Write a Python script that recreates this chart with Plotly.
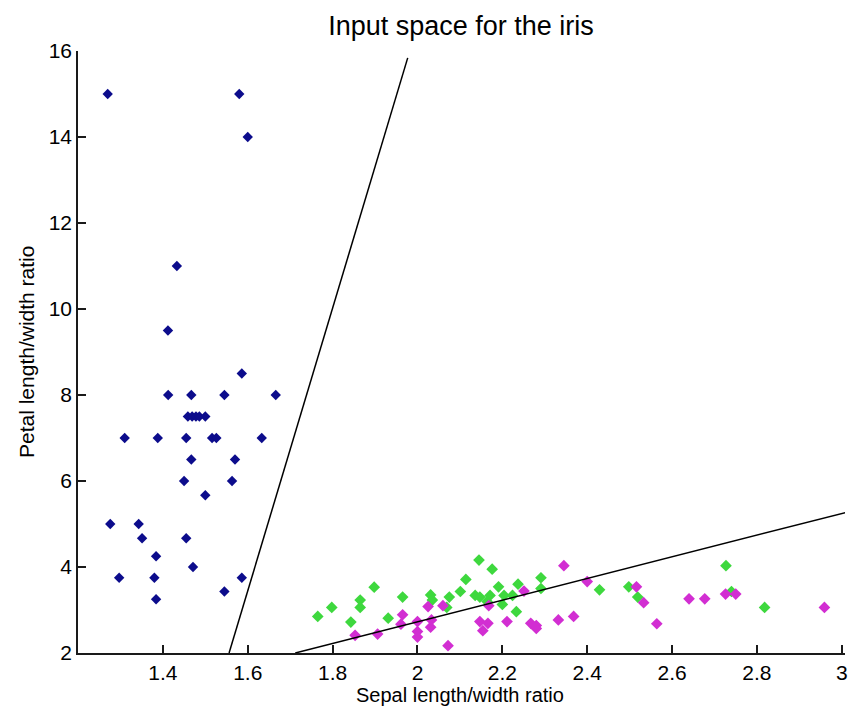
import plotly.graph_objects as go

# ---- data ----
setosa_x = [1.27, 1.58, 1.60, 1.433, 1.412, 1.586, 1.4125, 1.467, 1.545, 1.666,
            1.459, 1.469, 1.478, 1.486, 1.500, 1.31, 1.388, 1.455, 1.516, 1.526,
            1.633, 1.467, 1.57, 1.45, 1.563, 1.5, 1.276, 1.343, 1.351, 1.455,
            1.384, 1.471, 1.297, 1.38, 1.586, 1.545, 1.384]
setosa_y = [15, 15, 14, 11, 9.5, 8.5, 8, 8, 8, 8,
            7.5, 7.5, 7.5, 7.5, 7.5, 7, 7, 7, 7, 7,
            7, 6.5, 6.5, 6, 6, 5.67, 5, 5, 4.67, 4.67,
            4.25, 4, 3.75, 3.75, 3.75, 3.43, 3.25]

versicolor_x = [1.765, 1.798, 1.843, 1.865, 1.865, 1.898, 1.931, 1.965, 2.031, 2.035,
                2.075, 2.069, 2.101, 2.114, 2.145, 2.176, 2.136, 2.147, 2.171, 2.191,
                2.204, 2.2, 2.237, 2.233, 2.224, 2.291, 2.291, 2.164, 2.429, 2.498,
                2.519, 2.727, 2.74, 2.818]
versicolor_y = [2.85, 3.06, 2.72, 3.23, 3.06, 3.53, 2.81, 3.30, 3.35, 3.23,
                3.30, 3.06, 3.43, 3.71, 4.16, 3.95, 3.34, 3.30, 3.34, 3.54,
                3.34, 3.13, 3.60, 2.96, 3.34, 3.75, 3.50, 3.20, 3.47, 3.54,
                3.30, 4.03, 3.43, 3.06]

virginica_x = [1.853, 1.906, 1.965, 1.961, 2.0, 2.0, 2.0, 2.025, 2.031, 2.033,
               2.06, 2.072, 2.147, 2.166, 2.154, 2.211, 2.168, 2.251, 2.267, 2.28,
               2.28, 2.332, 2.345, 2.368, 2.40, 2.516, 2.533, 2.564, 2.64, 2.677,
               2.726, 2.75, 2.959]
virginica_y = [2.41, 2.44, 2.89, 2.67, 2.73, 2.50, 2.37, 3.08, 2.60, 2.77,
               3.10, 2.17, 2.73, 2.69, 2.52, 2.73, 3.10, 3.44, 2.69, 2.64,
               2.57, 2.77, 4.03, 2.85, 3.66, 3.54, 3.17, 2.68, 3.26, 3.26,
               3.37, 3.37, 3.06]

boundary1_x = [1.556, 1.977]
boundary1_y = [2.0, 15.84]
boundary2_x = [1.712, 3.01]
boundary2_y = [2.0, 5.27]

x_ticks = [1.4, 1.6, 1.8, 2.0, 2.2, 2.4, 2.6, 2.8, 3.0]
x_tick_labels = ["1.4", "1.6", "1.8", "2", "2.2", "2.4", "2.6", "2.8", "3"]
y_ticks = [2, 4, 6, 8, 10, 12, 14, 16]

FONT = "Liberation Sans, Arial, sans-serif"

fig = go.Figure()
fig.add_trace(go.Scatter(x=setosa_x, y=setosa_y, mode="markers",
                         marker=dict(symbol="diamond", size=8, color="#0c0c8c"),
                         showlegend=False))
fig.add_trace(go.Scatter(x=versicolor_x, y=versicolor_y, mode="markers",
                         marker=dict(symbol="diamond", size=9, color="#3ed83e"),
                         showlegend=False))
fig.add_trace(go.Scatter(x=virginica_x, y=virginica_y, mode="markers",
                         marker=dict(symbol="diamond", size=9, color="#d22ed2"),
                         showlegend=False))
for bx, by in [(boundary1_x, boundary1_y), (boundary2_x, boundary2_y)]:
    fig.add_trace(go.Scatter(x=bx, y=by, mode="lines",
                             line=dict(color="black", width=1.5),
                             showlegend=False))

fig.update_layout(
    width=848, height=718,
    margin=dict(l=78, r=0, t=51, b=65),
    paper_bgcolor="white", plot_bgcolor="white",
    font=dict(family=FONT, color="black", size=21),
    title=dict(text="Input space for the iris", x=461 / 848, xanchor="center",
               xref="container", yref="container", y=1 - 26 / 718, yanchor="middle",
               font=dict(size=27, family=FONT, color="black")),
    xaxis=dict(range=[1.2, 3.0075], tickvals=x_ticks, ticktext=x_tick_labels,
               showline=True, linecolor="#1a1a1a", linewidth=1.5, mirror=False,
               ticks="inside", ticklen=8, tickcolor="#1a1a1a", tickwidth=1.5,
               showgrid=False, zeroline=False, tickfont=dict(size=21),
               ticklabeloverflow="allow"),
    yaxis=dict(range=[2, 16], tickvals=y_ticks,
               showline=True, linecolor="#1a1a1a", linewidth=1.5, mirror=False,
               ticks="inside", ticklen=8, tickcolor="#1a1a1a", tickwidth=1.5,
               showgrid=False, zeroline=False, tickfont=dict(size=21)),
    annotations=[
        dict(text="Sepal length/width ratio", xref="paper", yref="paper",
             x=(461 - 78) / 770, y=0, yshift=-42, xanchor="center", yanchor="middle",
             showarrow=False, font=dict(size=20, family=FONT)),
        dict(text="Petal length/width ratio", xref="paper", yref="paper",
             x=0, y=0.5, xshift=-52, xanchor="center", yanchor="middle",
             textangle=-90, showarrow=False, font=dict(size=21, family=FONT)),
    ],
)

fig.write_html("out.html")
